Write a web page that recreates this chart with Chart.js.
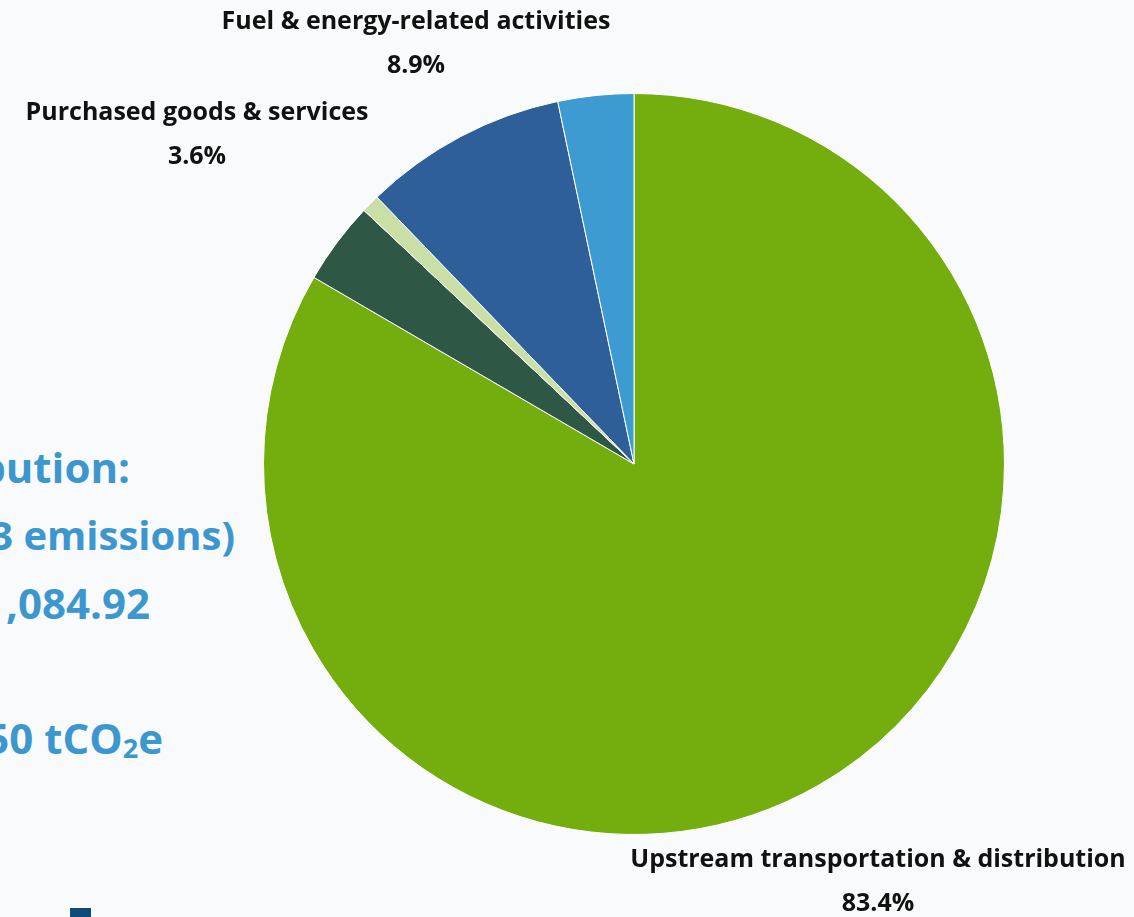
<!DOCTYPE html>
<html>
<head>
<meta charset="utf-8">
<script src="https://cdn.jsdelivr.net/npm/chart.js@4"></script>
<style>
  html, body { margin: 0; padding: 0; }
  body { width: 1134px; height: 917px; background: #f9fafb; position: relative; overflow: hidden; font-family: "Open Sans", sans-serif; }
  #wrap { position: absolute; left: 0; top: 0; width: 1134px; height: 917px; }
  .side { position: absolute; right: 0; color: #3d97cf; font-weight: 700; font-size: 42px; white-space: nowrap; line-height: 1; }
  .mark { position: absolute; left: 70px; top: 908px; width: 21px; height: 9px; background: #0e4b7b; }
</style>
</head>
<body>
<div class="side" style="right:1004px;top:446px">bution:</div>
<div class="side" style="right:899px;top:515px;font-size:40px">3 emissions)</div>
<div class="side" style="right:984px;top:582px">,084.92</div>
<div class="side" style="right:971px;top:717px">50 tCO<sub style="font-size:27px;vertical-align:-4px">2</sub>e</div>
<div class="mark"></div>
<div id="wrap"><canvas id="pie"></canvas></div>
<script>
// Scope 3 categories, clockwise from 12 o'clock
const labels = [
  "Upstream transportation & distribution",
  "Purchased goods & services",
  "Other",
  "Fuel & energy-related activities",
  "Other categories"
];
const values = [83.4, 3.6, 0.8, 8.9, 3.3];
const colors = ["#74ae0e", "#2f5745", "#c9dfa5", "#2e5f99", "#3d9bd1"];
const shownLabels = [0, 1, 3];

// where each callout text sits (centre of the name line)
const labelPos = {
  0: { x: 878, y: 860 },
  1: { x: 197, y: 113 },
  3: { x: 416, y: 22 }
};

const calloutPlugin = {
  id: "callouts",
  afterDraw(chart) {
    const ctx = chart.ctx;
    ctx.save();
    ctx.fillStyle = "#111";
    ctx.textAlign = "center";
    ctx.textBaseline = "middle";
    ctx.font = "bold 25px 'Open Sans'";
    shownLabels.forEach(i => {
      const p = labelPos[i];
      ctx.fillText(labels[i], p.x, p.y);
      ctx.fillText(values[i].toFixed(1) + "%", p.x, p.y + 44);
    });
    ctx.restore();
  }
};

new Chart(document.getElementById("pie"), {
  type: "pie",
  data: {
    labels,
    datasets: [{
      data: values,
      backgroundColor: colors,
      borderColor: "#ffffff",
      borderWidth: 1
    }]
  },
  options: {
    responsive: true,
    maintainAspectRatio: false,
    animation: false,
    layout: { padding: { left: 263, top: 93, right: 129, bottom: 82 } },
    plugins: { legend: { display: false }, tooltip: { enabled: false } }
  },
  plugins: [calloutPlugin]
});
</script>
</body>
</html>
